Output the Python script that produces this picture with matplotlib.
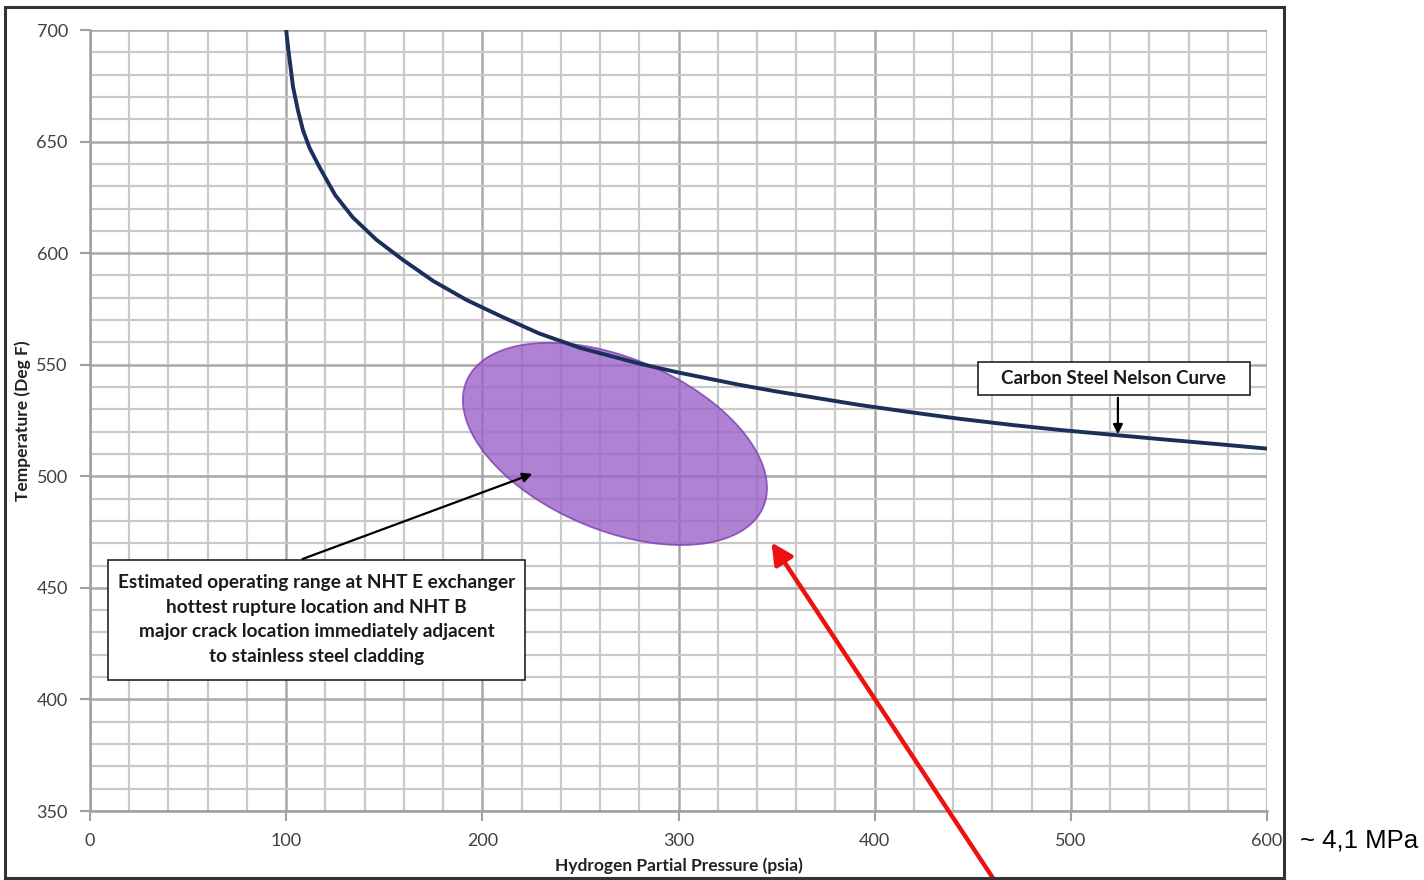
import numpy as np
import matplotlib
matplotlib.use("Agg")
import matplotlib.pyplot as plt
from matplotlib.patches import Rectangle
from matplotlib.ticker import MultipleLocator

# Nelson curve for carbon steel, read point by point
pressure = [100, 101, 102, 103.5, 106, 108.6, 112, 117, 125, 134, 146,
            159.5, 175, 192, 210, 229, 250, 280, 300, 331, 350, 362, 392,
            420, 443, 470, 494, 520, 545, 575, 600]
temperature = [700, 692, 685, 674.5, 664, 655, 647, 638.5, 626, 616, 606,
               597, 587.5, 579, 571.5, 564, 557.5, 550.5, 546.5, 541, 538,
               536.3, 532, 528.5, 525.8, 523, 520.8, 518.7, 516.7, 514.4,
               512.4]

x_ticks = [0, 100, 200, 300, 400, 500, 600]
y_ticks = [350, 400, 450, 500, 550, 600, 650, 700]

# operating window (psia, deg F): centre, half extents and tilt phase
ell_center = (267.6, 514.5)
ell_half_w = 77.5
ell_half_h = 45.3
ell_phase = np.deg2rad(115.8)

range_note = ("Estimated operating range at NHT E exchanger\n"
              "hottest rupture location and NHT B\n"
              "major crack location immediately adjacent\n"
              "to stainless steel cladding")
curve_note = "Carbon Steel Nelson Curve"

fig = plt.figure(figsize=(14.24, 8.8), dpi=100)
ax = fig.add_axes([90 / 1424, 1 - 811 / 880, 1177 / 1424, 781 / 880])

ax.set_xlim(0, 600)
ax.set_ylim(350, 700)
ax.xaxis.set_minor_locator(MultipleLocator(20))
ax.yaxis.set_minor_locator(MultipleLocator(10))
ax.set_xticks(x_ticks)
ax.set_yticks(y_ticks)

ax.grid(which="minor", color="#c9c9c9", lw=1.6)
ax.grid(which="major", color="#a8a8a8", lw=1.8)
ax.set_axisbelow(True)
for side in ["top", "right"]:
    ax.spines[side].set_visible(False)
for side in ["left", "bottom"]:
    ax.spines[side].set_color("#a0a0a0")
    ax.spines[side].set_linewidth(1.8)
ax.tick_params(which="major", length=7, width=1.5, color="#a0a0a0",
               labelsize=13, labelcolor="#404040", pad=9)
ax.tick_params(which="minor", length=0)
for lab in ax.get_xticklabels() + ax.get_yticklabels():
    lab.set_fontfamily("Lato")

ax.set_xlabel("Hydrogen Partial Pressure (psia)", fontfamily="Lato",
              fontweight="bold", fontsize=12.5, color="#222222", labelpad=6)
ax.set_ylabel("Temperature (Deg F)", fontfamily="Lato",
              fontweight="bold", fontsize=12.5, color="#222222", labelpad=4)

# operating range ellipse
t = np.linspace(0, 2 * np.pi, 300)
ex = ell_center[0] + ell_half_w * np.cos(t)
ey = ell_center[1] + ell_half_h * np.cos(t - ell_phase)
ax.fill(ex, ey, facecolor="#9b63c9", alpha=0.8, edgecolor="#7b3fb3",
        lw=1.3, zorder=2)

# the curve
ax.plot(pressure, temperature, color="#1b2f5c", lw=2.8, zorder=3,
        solid_joinstyle="round")

# label boxes
ax.add_patch(Rectangle((9.2, 408.7), 212.5, 53.8, facecolor="white",
                       edgecolor="#222222", lw=1.2, zorder=4))
ax.text(115.5, 435.8, range_note, ha="center", va="center", fontsize=13.7,
        fontfamily="Lato", fontweight="bold", color="#1a1a1a",
        linespacing=1.55, zorder=5)
ax.annotate("", xy=(226.8, 501.5), xytext=(107, 462.5),
            arrowprops=dict(arrowstyle="-|>", color="black", lw=1.6,
                            mutation_scale=14), zorder=5)

ax.add_patch(Rectangle((452.5, 536.4), 138.6, 14.8, facecolor="white",
                       edgecolor="#222222", lw=1.2, zorder=4))
ax.text(521.8, 543.8, curve_note, ha="center", va="center", fontsize=13.5,
        fontfamily="Lato", fontweight="bold", color="#1a1a1a", zorder=5)
ax.annotate("", xy=(524, 517.6), xytext=(524, 536.4),
            arrowprops=dict(arrowstyle="-|>", color="black", lw=1.6,
                            mutation_scale=14), zorder=5)

# red pointer coming up from below the plot
ax.annotate("", xy=(346.6, 471.4), xytext=(461, 319),
            arrowprops=dict(arrowstyle="-|>", color="#ee1111", lw=3.2,
                            mutation_scale=32), annotation_clip=False,
            zorder=6)

# outer chart frame
fig.patches.append(Rectangle((5 / 1424, 2 / 880), 1279 / 1424, 871 / 880,
                             transform=fig.transFigure, fill=False,
                             edgecolor="#333333", lw=2.2))

fig.text(1300 / 1424, 1 - 840 / 880, "~ 4,1 MPa", fontfamily="Liberation Sans",
         fontsize=18.5, va="center", ha="left", color="black")

fig.savefig("out.png", dpi=100)
